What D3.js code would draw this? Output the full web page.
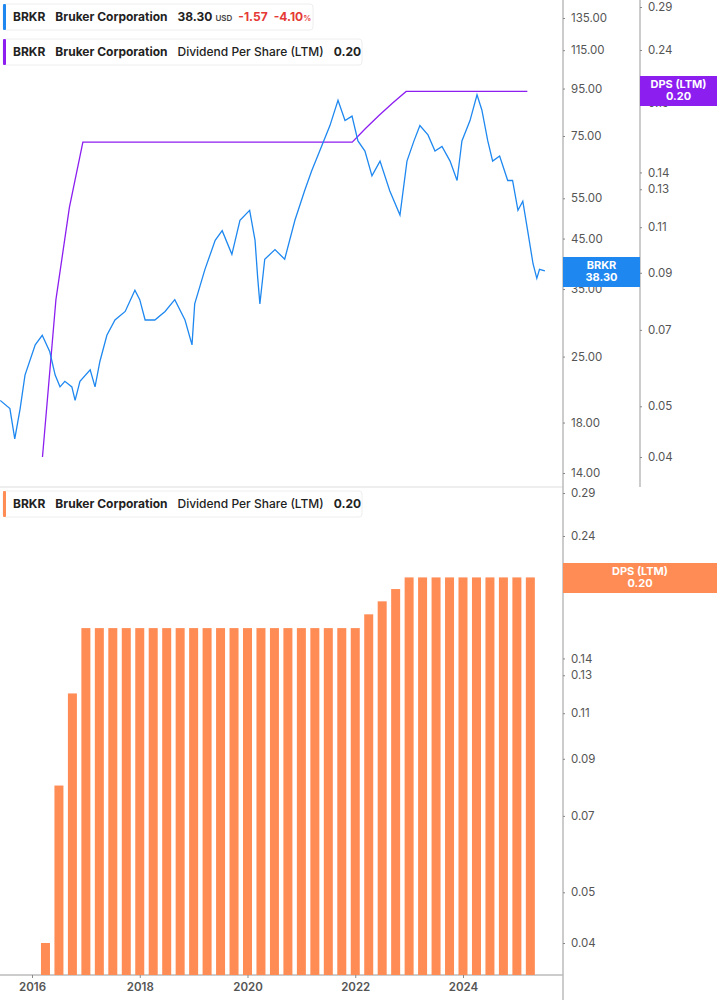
<!DOCTYPE html>
<html><head><meta charset="utf-8">
<script src="https://cdn.jsdelivr.net/npm/d3@7/dist/d3.min.js"></script>
<style>body{margin:0;background:#fff;font-family:Inter,"Noto Sans",sans-serif}</style>
</head><body><svg id="c" width="717" height="1005"></svg>
<script>
const priceYears=[2015.41,2015.59,2015.68,2015.78,2015.87,2016.06,2016.19,2016.33,2016.43,2016.52,2016.61,2016.74,2016.80,2016.89,2017.08,2017.17,2017.26,2017.39,2017.54,2017.73,2017.91,2018.00,2018.10,2018.28,2018.47,2018.65,2018.84,2018.97,2019.02,2019.21,2019.40,2019.53,2019.71,2019.86,2020.04,2020.14,2020.19,2020.23,2020.32,2020.51,2020.69,2020.88,2021.06,2021.19,2021.34,2021.53,2021.68,2021.81,2021.94,2022.05,2022.18,2022.31,2022.46,2022.64,2022.83,2022.96,2023.09,2023.20,2023.35,2023.48,2023.61,2023.76,2023.89,2023.98,2024.13,2024.26,2024.35,2024.46,2024.55,2024.68,2024.83,2024.92,2025.02,2025.11,2025.20,2025.30,2025.37,2025.42,2025.52];
const prices=[20.1,19.3,16.6,19.3,22.8,26.5,27.8,25.6,22.8,21.5,22.1,21.5,20.1,22.1,23.4,21.5,24.4,27.8,30.0,31.3,34.8,33.2,30.0,30.0,31.3,33.2,30.0,26.5,32.5,38.6,44.6,46.8,41.6,49.3,51.8,44.6,36.9,32.5,40.6,42.6,40.6,49.3,57.1,63.0,69.6,79.0,89.6,81.0,82.8,73.2,69.6,61.5,66.2,57.1,50.6,66.2,73.2,79.0,75.4,69.6,71.2,66.2,60.1,73.2,81.0,92.1,85.4,73.2,66.2,67.9,60.1,60.1,51.8,54.2,46.8,39.7,36.9,38.6,38.3];
const dpsYears=[2016.25,2016.5,2016.75,2017,2017.25,2017.5,2017.75,2018,2018.25,2018.5,2018.75,2019,2019.25,2019.5,2019.75,2020,2020.25,2020.5,2020.75,2021,2021.25,2021.5,2021.75,2022,2022.25,2022.5,2022.75,2023,2023.25,2023.5,2023.75,2024,2024.25,2024.5,2024.75,2025,2025.25];
const dps=[0.04,0.08,0.12,0.16,0.16,0.16,0.16,0.16,0.16,0.16,0.16,0.16,0.16,0.16,0.16,0.16,0.16,0.16,0.16,0.16,0.16,0.16,0.16,0.16,0.17,0.18,0.19,0.20,0.20,0.20,0.20,0.20,0.20,0.20,0.20,0.20,0.20];
const priceTicks=[14,18,25,35,45,55,75,95,115,135];
const dpsTicks=[0.04,0.05,0.07,0.09,0.11,0.13,0.14,0.19,0.24,0.29];
const yearTicks=[2016,2018,2020,2022,2024];

const svg=d3.select("#c");
const x=d3.scaleLinear().domain([2016,2024]).range([32,463]);
const yP=d3.scaleLog().domain([14,135]).range([473,18]);
const yD1=d3.scaleLog().domain([0.04,0.29]).range([457,7]);
const yD2=d3.scaleLog().domain([0.04,0.29]).range([943,493]);
const BLUE="#1e88f0",PURP="#8c1ef0",ORNG="#ff8c55",GRAY="#bbb";

svg.append("line").attr("x1",0).attr("x2",563).attr("y1",487).attr("y2",487).attr("stroke","#ddd");
svg.append("line").attr("x1",563).attr("x2",563).attr("y1",0).attr("y2",1000).attr("stroke",GRAY).attr("stroke-width",1.5);
svg.append("line").attr("x1",640).attr("x2",640).attr("y1",0).attr("y2",487).attr("stroke",GRAY).attr("stroke-width",1.5);
svg.append("line").attr("x1",0).attr("x2",563).attr("y1",975).attr("y2",975).attr("stroke",GRAY).attr("stroke-width",1.5);

function axisStyle(g){g.select(".domain").remove();g.selectAll("text").attr("fill","#555").style("font-size","11.5px").attr("font-family","Inter,sans-serif");g.selectAll("line").attr("stroke","#888");}
svg.append("g").attr("transform","translate(563,0)").call(d3.axisRight(yP).tickValues(priceTicks).tickFormat(d3.format(".2f")).tickSize(2).tickPadding(6)).call(axisStyle);
svg.append("g").attr("transform","translate(640,0)").call(d3.axisRight(yD1).tickValues(dpsTicks).tickFormat(d3.format(".2f")).tickSize(2).tickPadding(6)).call(axisStyle);
svg.append("g").attr("transform","translate(563,0)").call(d3.axisRight(yD2).tickValues(dpsTicks).tickFormat(d3.format(".2f")).tickSize(2).tickPadding(6)).call(axisStyle);
svg.append("g").attr("transform","translate(0,975)").call(d3.axisBottom(x).tickValues(yearTicks).tickFormat(d3.format("d")).tickSize(3).tickPadding(5)).call(axisStyle).selectAll("text").style("font-weight","600");

svg.append("g").selectAll("rect").data(dps).join("rect")
 .attr("x",(d,i)=>x(dpsYears[i])-4.5).attr("width",9)
 .attr("y",d=>yD2(d)).attr("height",d=>975-yD2(d)).attr("fill",ORNG);

svg.append("path").datum(dps).attr("fill","none").attr("stroke",PURP).attr("stroke-width",1.3)
 .attr("d",d3.line().x((d,i)=>x(dpsYears[i])-3).y(d=>yD1(d)));
svg.append("path").datum(prices).attr("fill","none").attr("stroke",BLUE).attr("stroke-width",1.3)
 .attr("d",d3.line().x((d,i)=>x(priceYears[i])).y(d=>yP(d)));

function box(x0,y0,w,h,fill,l1,l2){
 svg.append("rect").attr("x",x0).attr("y",y0).attr("width",w).attr("height",h).attr("fill",fill);
 const cx=x0+w/2;
 svg.append("text").attr("x",cx).attr("y",y0+12).attr("text-anchor","middle").attr("fill","#fff").style("font-size","11px").style("font-weight","700").text(l1);
 svg.append("text").attr("x",cx).attr("y",y0+24).attr("text-anchor","middle").attr("fill","#fff").style("font-size","11px").style("font-weight","700").text(l2);
}
box(563,257,77,30,BLUE,"BRKR","38.30");
box(640,76,77,30,PURP,"DPS (LTM)","0.20");
box(563,563,154,30,ORNG,"DPS (LTM)","0.20");

function legend(y0,w,color,parts){
 svg.append("rect").attr("x",3).attr("y",y0).attr("width",w).attr("height",26).attr("rx",3).attr("fill","#fff").attr("stroke","#eee");
 svg.append("rect").attr("x",3).attr("y",y0).attr("width",3).attr("height",26).attr("rx",1).attr("fill",color);
 const t=svg.append("text").attr("x",13).attr("y",y0+17).style("font-size","12px").attr("fill","#222");
 parts.forEach(p=>t.append("tspan").attr("dx",p[1]||0).style("font-weight",p[2]||"600").attr("fill",p[3]||"#222").style("font-size",p[4]||"12px").text(p[0]));
}
legend(4,310,BLUE,[["BRKR",0,"700"],["Bruker Corporation",10,"700"],["38.30",10,"700"],["USD",3,"600","#444","8px"],["-1.57",6,"700","#e53935"],["-4.10",6,"700","#e53935"],["%",0,"600","#e53935","8px"]]);
legend(39,359,PURP,[["BRKR",0,"700"],["Bruker Corporation",10,"700"],["Dividend Per Share (LTM)",10,"500"],["0.20",10,"700"]]);
legend(491,359,ORNG,[["BRKR",0,"700"],["Bruker Corporation",10,"700"],["Dividend Per Share (LTM)",10,"500"],["0.20",10,"700"]]);
</script></body></html>
